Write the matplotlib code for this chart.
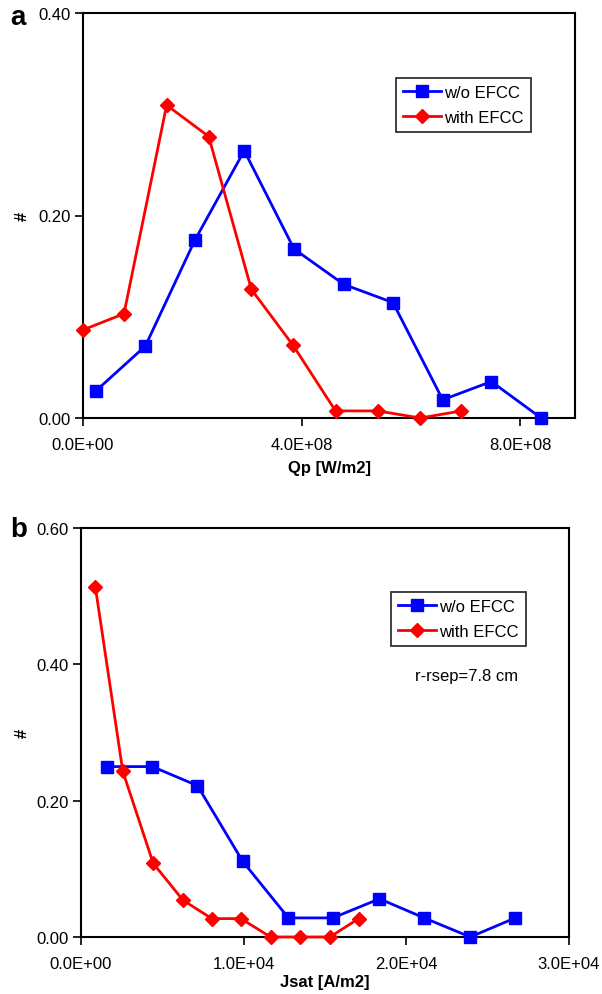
import matplotlib
matplotlib.use("Agg")
import matplotlib.pyplot as plt
from matplotlib.ticker import FuncFormatter, FixedLocator

plt.rcParams['font.family'] = ['Liberation Sans', 'DejaVu Sans']

# Panel a: Qp [W/m2]
qp_wo_x = [0.24e8, 1.14e8, 2.05e8, 2.95e8, 3.86e8, 4.77e8, 5.67e8, 6.58e8, 7.47e8, 8.38e8]
qp_wo_y = [0.027, 0.071, 0.176, 0.264, 0.167, 0.132, 0.114, 0.018, 0.036, 0.0]
qp_w_x = [0.0, 0.75e8, 1.53e8, 2.30e8, 3.08e8, 3.84e8, 4.62e8, 5.39e8, 6.17e8, 6.92e8]
qp_w_y = [0.087, 0.103, 0.309, 0.278, 0.127, 0.072, 0.007, 0.007, 0.0, 0.007]

# Panel b: Jsat [A/m2]
js_wo_x = [0.16e4, 0.438e4, 0.716e4, 0.994e4, 1.275e4, 1.548e4, 1.835e4, 2.11e4, 2.393e4, 2.67e4]
js_wo_y = [0.25, 0.25, 0.222, 0.111, 0.028, 0.028, 0.056, 0.028, 0.0, 0.028]
js_w_x = [0.088e4, 0.257e4, 0.444e4, 0.627e4, 0.804e4, 0.983e4, 1.165e4, 1.349e4, 1.53e4, 1.707e4]
js_w_y = [0.514, 0.243, 0.108, 0.054, 0.027, 0.027, 0.0, 0.0, 0.0, 0.027]

series_labels = ['w/o EFCC', 'with EFCC']
qp_xticks = [0.0, 4e8, 8e8]
qp_yticks = [0.0, 0.2, 0.4]
js_xticks = [0.0, 1e4, 2e4, 3e4]
js_yticks = [0.0, 0.2, 0.4, 0.6]

W, H = 602, 995
fig = plt.figure(figsize=(W / 100, H / 100), dpi=100)

def fx(px):
    return px / W

def fy(py):
    return 1 - py / H

axA = fig.add_axes([fx(83), fy(419), fx(575 - 83), (419 - 14) / H])
axB = fig.add_axes([fx(81), fy(938), fx(569 - 81), (938 - 529) / H])

def style(ax, xticks, yticks, xlim, ylim, xlabel, xlab_y, ylab_x):
    ax.set_xlim(*xlim)
    ax.set_ylim(*ylim)
    ax.xaxis.set_major_locator(FixedLocator(xticks))
    ax.yaxis.set_major_locator(FixedLocator(yticks))
    ax.xaxis.set_major_formatter(FuncFormatter(lambda v, p: f"{v:.1E}"))
    ax.yaxis.set_major_formatter(FuncFormatter(lambda v, p: f"{v:.2f}"))
    ax.tick_params(direction='out', length=6, width=1.2, labelsize=12, pad=3)
    ax.tick_params(axis='x', pad=8)
    for s in ax.spines.values():
        s.set_linewidth(1.5)
    ax.set_xlabel(xlabel, fontsize=12, fontweight='bold', va='center')
    ax.set_ylabel('#', fontsize=12, fontweight='bold', va='center')
    ax.xaxis.set_label_coords(0.5, xlab_y)
    ax.yaxis.set_label_coords(ylab_x, 0.5)

def draw(ax, xb, yb, xr, yr):
    ax.plot(xb, yb, color='#0000ff', lw=2, marker='s', ms=9.2, mec='#0000ff',
            mfc='#0000ff', label=series_labels[0], clip_on=False, zorder=3)
    ax.plot(xr, yr, color='#ff0000', lw=2, marker='D', ms=6.8, mec='#ff0000',
            mfc='#ff0000', label=series_labels[1], clip_on=False, zorder=4)

draw(axA, qp_wo_x, qp_wo_y, qp_w_x, qp_w_y)
style(axA, qp_xticks, qp_yticks, (0, 9e8), (0, 0.4), 'Qp [W/m2]',
      (419 - 469) / 405, (22 - 83) / 492)
draw(axB, js_wo_x, js_wo_y, js_w_x, js_w_y)
style(axB, js_xticks, js_yticks, (0, 3e4), (0, 0.6), 'Jsat [A/m2]',
      (938 - 983) / 409, (22 - 81) / 488)

def legend(ax, x0, y0):
    lg = ax.legend(loc='upper left', bbox_to_anchor=(fx(x0), fy(y0)),
                   bbox_transform=fig.transFigure, fancybox=False, shadow=False,
                   frameon=True, fontsize=12, handlelength=2.3, handletextpad=0.2,
                   borderpad=0.4, labelspacing=0.62, borderaxespad=0)
    lg.get_frame().set_edgecolor('black')
    lg.get_frame().set_linewidth(1.3)

legend(axA, 396, 79)
legend(axB, 391, 593)

fig.text(fx(415), fy(677), 'r-rsep=7.8 cm', fontsize=12, va='center', ha='left')
fig.text(fx(10), fy(18), 'a', fontsize=20, fontweight='bold', va='center', ha='left')
fig.text(fx(10), fy(530), 'b', fontsize=20, fontweight='bold', va='center', ha='left')

fig.savefig('out.png', dpi=100)
